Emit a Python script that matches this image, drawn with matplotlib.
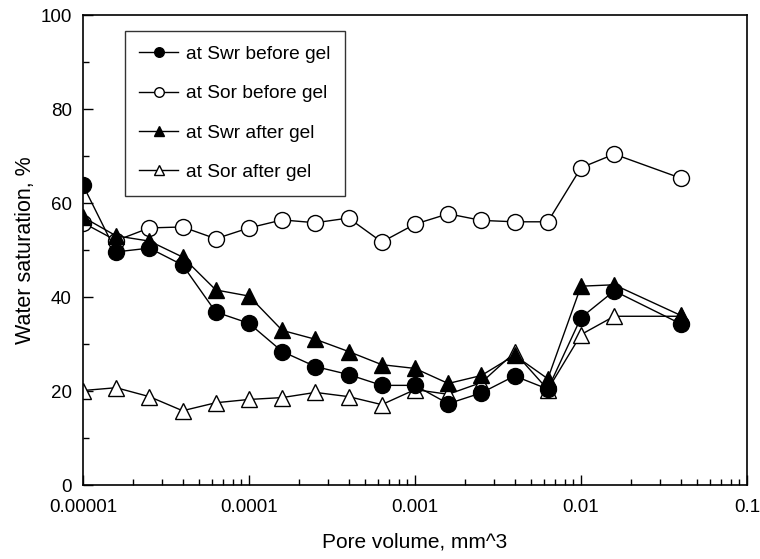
import matplotlib
matplotlib.use("Agg")
import matplotlib.pyplot as plt
from matplotlib.ticker import LogLocator, FixedLocator, NullFormatter, MultipleLocator

plt.rcParams['font.family'] = ['Liberation Sans', 'DejaVu Sans']

pore_volume = [1.0e-5, 1.585e-5, 2.512e-5, 3.981e-5, 6.310e-5,
               1.0e-4, 1.585e-4, 2.512e-4, 3.981e-4, 6.310e-4,
               1.0e-3, 1.585e-3, 2.512e-3, 3.981e-3, 6.310e-3,
               1.0e-2, 1.585e-2, 3.981e-2]

swr_before = [63.8, 49.6, 50.4, 46.8, 36.8, 34.4, 28.4, 25.2, 23.5, 21.2,
              21.2, 17.3, 19.6, 23.2, 20.4, 35.6, 41.3, 34.3]
sor_before = [55.8, 52.0, 54.7, 54.9, 52.4, 54.7, 56.4, 55.8, 56.8, 51.7,
              55.5, 57.7, 56.3, 56.0, 56.0, 67.5, 70.4, 65.3]
swr_after = [57.0, 53.0, 51.9, 48.5, 41.5, 40.2, 32.9, 31.0, 28.4, 25.6,
             24.8, 21.6, 23.3, 27.6, 22.6, 42.3, 42.6, 36.1]
sor_after = [20.1, 20.7, 18.8, 15.8, 17.5, 18.2, 18.6, 19.7, 18.8, 17.1,
             20.3, 19.3, 21.8, 28.2, 20.3, 32.0, 35.9, 35.9]

labels = ["at Swr before gel", "at Sor before gel", "at Swr after gel", "at Sor after gel"]
xtick_vals = [1e-5, 1e-4, 1e-3, 1e-2, 1e-1]
xtick_labels = ["0.00001", "0.0001", "0.001", "0.01", "0.1"]
ytick_vals = [0, 20, 40, 60, 80, 100]

fig = plt.figure(figsize=(7.6, 5.59), dpi=100)
ax = fig.add_axes([83/760, 1-485/559, (747-83)/760, (485-15)/559])

ms = 11.5
kw = dict(color='black', lw=1.0, markeredgecolor='black', markeredgewidth=1.0)
ax.plot(pore_volume, sor_before, marker='o', markerfacecolor='white', ms=ms, label=labels[1], **kw)
ax.plot(pore_volume, sor_after, marker='^', markerfacecolor='white', ms=ms, label=labels[3], **kw)
ax.plot(pore_volume, swr_after, marker='^', markerfacecolor='black', ms=ms, label=labels[2], **kw)
ax.plot(pore_volume, swr_before, marker='o', markerfacecolor='black', ms=ms, label=labels[0], **kw)

ax.set_xscale('log')
ax.set_xlim(1e-5, 1e-1)
ax.set_ylim(0, 100)
ax.xaxis.set_major_locator(FixedLocator(xtick_vals))
ax.set_xticklabels(xtick_labels)
ax.xaxis.set_minor_locator(LogLocator(base=10, subs=range(2, 10), numticks=20))
ax.xaxis.set_minor_formatter(NullFormatter())
ax.set_yticks(ytick_vals)
ax.yaxis.set_minor_locator(MultipleLocator(10))

ax.tick_params(which='both', direction='in', labelsize=13.5, width=1.0, colors='black')
ax.tick_params(which='major', length=7, pad=8)
ax.tick_params(which='minor', length=4)
ax.tick_params(axis='x', which='major', pad=10)
for s in ax.spines.values():
    s.set_linewidth(1.2)

ax.set_xlabel("Pore volume, mm^3", fontsize=15, labelpad=12)
ax.set_ylabel("Water saturation, %", fontsize=15.5, labelpad=3)

handles, labs = ax.get_legend_handles_labels()
order = [labs.index(l) for l in labels]
leg = ax.legend([handles[i] for i in order], [labs[i] for i in order],
                loc='upper left', bbox_to_anchor=(125/760, 1-31/559),
                bbox_transform=fig.transFigure, borderaxespad=0,
                fontsize=13.8, markerscale=0.6, handlelength=2.0, handletextpad=0.45,
                labelspacing=1.15, borderpad=0.75, frameon=True, fancybox=False)
leg.get_frame().set_edgecolor('black')
leg.get_frame().set_linewidth(1.0)

fig.savefig("out.png", dpi=100)
